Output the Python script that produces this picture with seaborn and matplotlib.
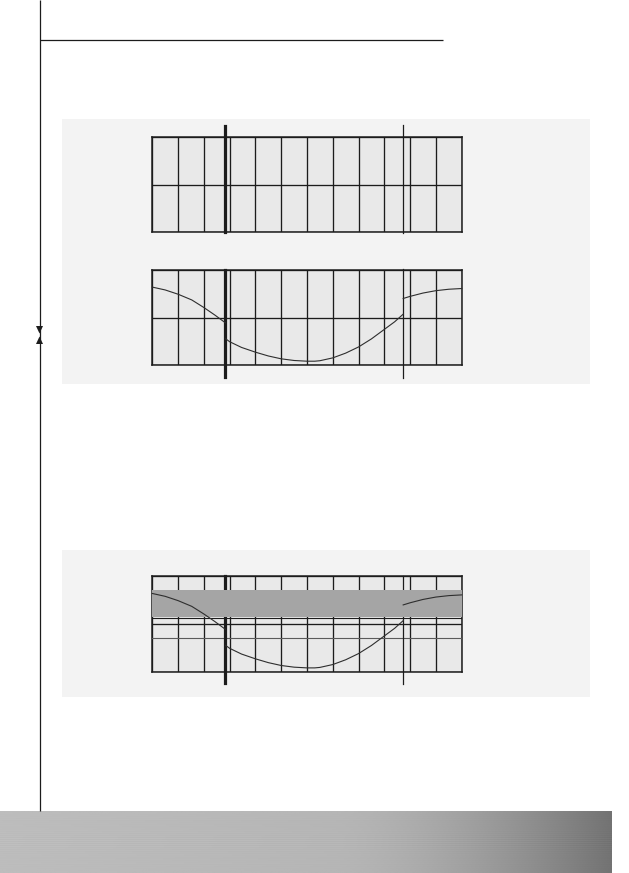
import numpy as np
import pandas as pd
import matplotlib
matplotlib.use("Agg")
import matplotlib.pyplot as plt
import seaborn as sns
from matplotlib.patches import Rectangle, Polygon

# ---------------- data ----------------
n_cols = 12
n_rows = 2
seg1_x = [0.0, 0.5, 1.0, 1.53, 2.0, 2.43, 2.83]
seg1_y = [1.64, 1.58, 1.49, 1.37, 1.21, 1.05, 0.89]
seg2_x = [2.85, 3.0, 3.46, 4.0, 4.5, 5.0, 5.5, 6.0, 6.3, 6.5, 7.0, 7.5, 8.0, 8.5, 9.0, 9.4, 9.73]
seg2_y = [0.55, 0.49, 0.37, 0.27, 0.19, 0.13, 0.095, 0.08, 0.08, 0.09, 0.15, 0.25, 0.38, 0.55, 0.75, 0.91, 1.07]
seg3_x = [9.73, 10.0, 10.5, 11.0, 11.5, 12.0]
seg3_y = [1.40, 1.445, 1.515, 1.565, 1.595, 1.61]
marker_thick_x = 2.83
marker_thin_x = 9.73
band_y = [1.147, 1.707]
extra_lines_y = [1.12, 0.71]

curve = pd.DataFrame({
    "x": seg1_x + seg2_x + seg3_x,
    "y": seg1_y + seg2_y + seg3_y,
    "seg": [1] * len(seg1_x) + [2] * len(seg2_x) + [3] * len(seg3_x),
})

# ---------------- figure ----------------
W, H = 629, 873
fig = plt.figure(figsize=(W / 100, H / 100), dpi=100)
fig.patch.set_facecolor("white")

INK = "#1c1c1c"

bg = fig.add_axes([0, 0, 1, 1])
bg.set_xlim(0, W)
bg.set_ylim(H, 0)
bg.axis("off")

# grey panels
bg.add_patch(Rectangle((62, 119), 527.5, 264.5, facecolor="#f3f3f3", edgecolor="none", zorder=1))
bg.add_patch(Rectangle((62, 550), 527.5, 146.5, facecolor="#f3f3f3", edgecolor="none", zorder=1))

# page rule lines
bg.plot([39.5, 39.5], [0, 811], color=INK, lw=0.9, zorder=3, solid_capstyle="butt")
bg.plot([39.5, 443], [40.3, 40.3], color=INK, lw=0.9, zorder=3, solid_capstyle="butt")
# arrow heads on the left rule
bg.add_patch(Polygon([[36, 326], [43, 326], [39.5, 333.5]], closed=True, facecolor=INK, edgecolor="none", zorder=4))
bg.add_patch(Polygon([[36, 344], [43, 344], [39.5, 336.5]], closed=True, facecolor=INK, edgecolor="none", zorder=4))

# metallic strip at the bottom
xs = np.linspace(0, 1, 600)
shade = 0.74 - 0.05 * xs - 0.24 * np.clip((xs - 0.55) / 0.45, 0, 1) ** 1.6
streak = 0.012 * np.sin(np.linspace(0, 60 * np.pi, 60))[:, None]
img = shade[None, :] + streak
bg.imshow(img, cmap="gray", vmin=0, vmax=1, aspect="auto",
          extent=(0, 612, 873, 811), zorder=2, interpolation="bilinear")


def add_grid(y_top, y_bot, ext_top=0.0, ext_bot=0.0, band=False):
    x0, x1 = 152.3, 461.7
    ax = fig.add_axes([x0 / W, 1 - y_bot / H, (x1 - x0) / W, (y_bot - y_top) / H])
    ax.set_facecolor("#e9e9e9")
    ax.set_xlim(0, n_cols)
    ax.set_ylim(0, n_rows)
    ax.set_xticks(range(n_cols + 1))
    ax.set_yticks(range(n_rows + 1))
    ax.tick_params(length=0, labelbottom=False, labelleft=False)
    ax.set_axisbelow(True)
    ax.grid(True, color=INK, lw=0.95)
    for s in ax.spines.values():
        s.set_color(INK)
        s.set_linewidth(1.1)
        s.set_zorder(0.6)
    h = y_bot - y_top
    ymin = -ext_bot / h
    ymax = 1 + ext_top / h
    ax.axvline(marker_thick_x, ymin=ymin, ymax=ymax, color=INK, lw=2.3, clip_on=False, zorder=0.8)
    ax.axvline(marker_thin_x, ymin=ymin - 0.008, ymax=ymax + 0.008, color=INK, lw=0.9, clip_on=False, zorder=0.8)
    if band:
        ax.axhspan(band_y[0], band_y[1], color="#a5a5a5", lw=0, zorder=1)
        ax.axhline(extra_lines_y[0], color=INK, lw=0.8, zorder=0.7)
        ax.axhline(extra_lines_y[1], color="#5a5a5a", lw=0.8, zorder=0.7)
    return ax


ax1 = add_grid(137.3, 232.3, ext_top=11.5)
ax2 = add_grid(270.0, 365.0, ext_bot=12.0)
ax3 = add_grid(576.3, 671.7, ext_bot=11.6, band=True)

for ax in (ax2, ax3):
    sns.lineplot(data=curve, x="x", y="y", units="seg", estimator=None, sort=False,
                 color="#2e2e2e", lw=0.8, ax=ax, zorder=2, clip_on=False)
    ax.set_xlabel("")
    ax.set_ylabel("")
    ax.set_xlim(0, n_cols)
    ax.set_ylim(0, n_rows)

fig.savefig("out.png", dpi=100, facecolor="white")
